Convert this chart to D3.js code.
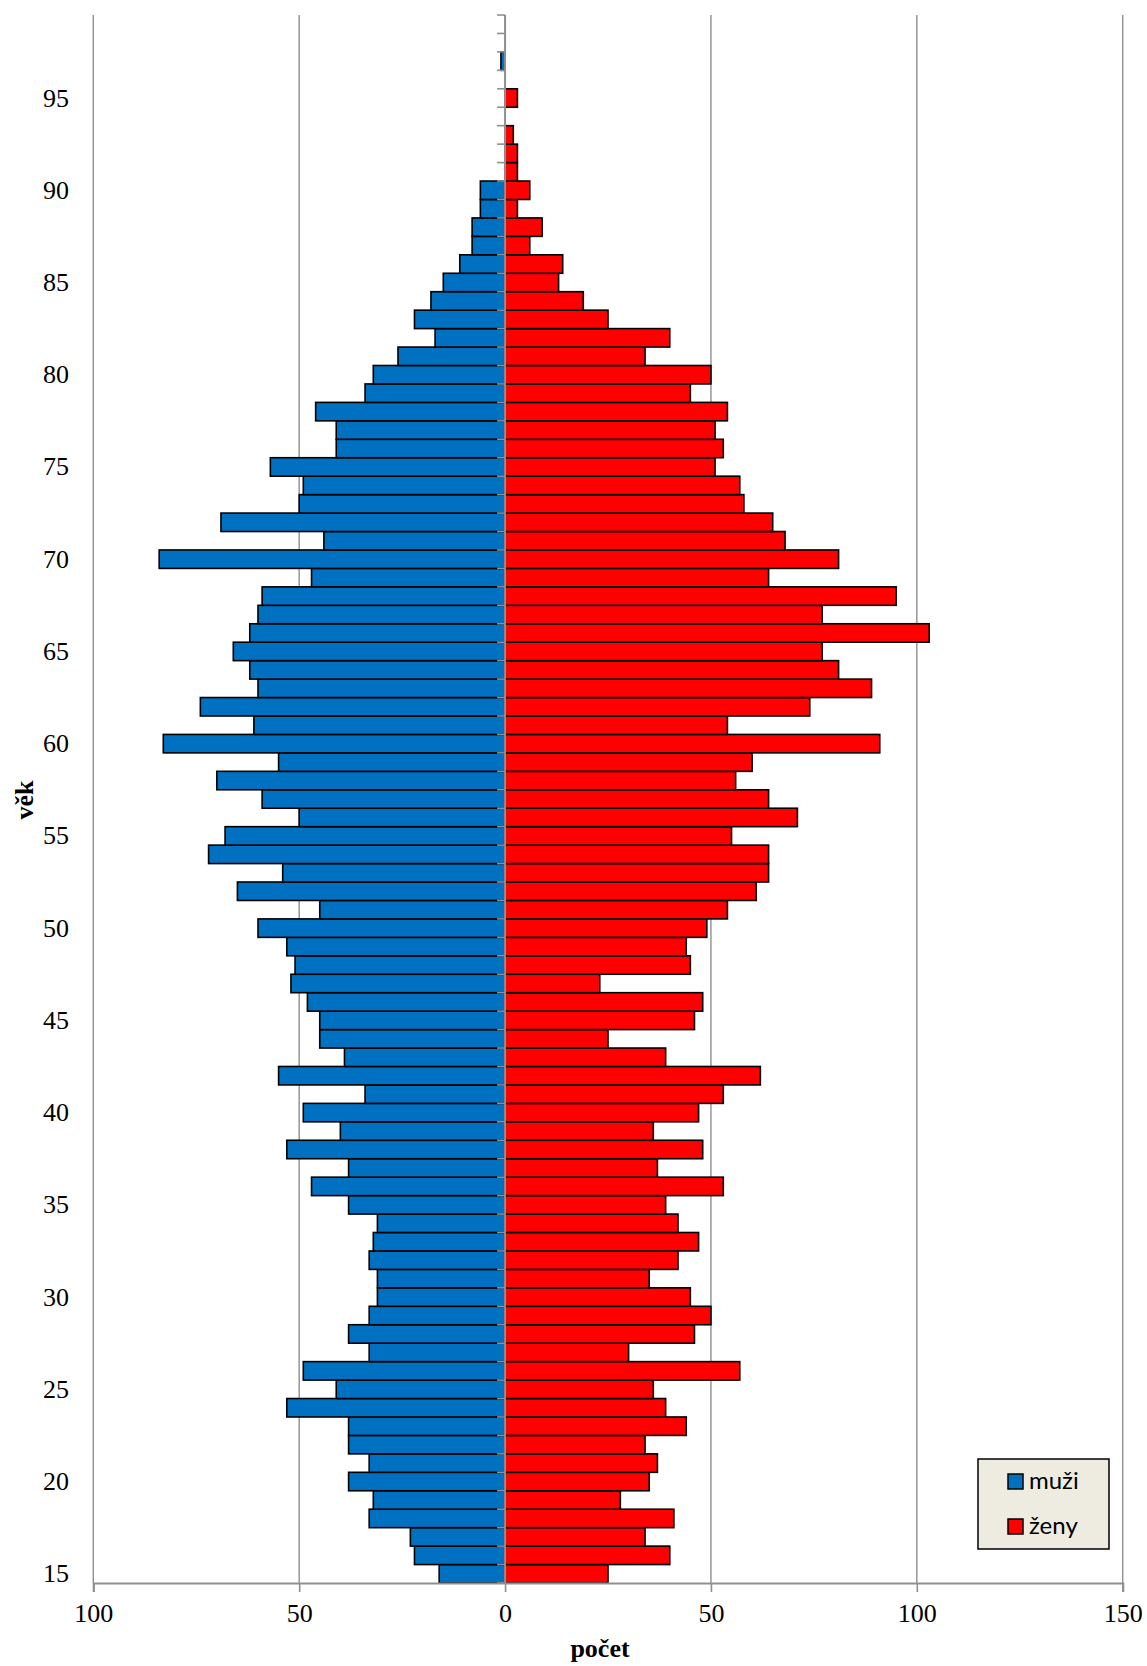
<!DOCTYPE html>
<html>
<head>
<meta charset="utf-8">
<script src="https://cdn.jsdelivr.net/npm/d3@7"></script>
<style>
  html, body { margin: 0; padding: 0; background: #fff; }
  svg { display: block; }
</style>
</head>
<body>
<svg id="chart" width="1147" height="1666"></svg>
<script>
// Categories: age (years)
const ages = [15,16,17,18,19,20,21,22,23,24,25,26,27,28,29,30,31,32,33,34,35,36,37,38,39,
  40,41,42,43,44,45,46,47,48,49,50,51,52,53,54,55,56,57,58,59,60,61,62,63,64,65,66,67,68,69,
  70,71,72,73,74,75,76,77,78,79,80,81,82,83,84,85,86,87,88,89,90,91,92,93,94,95,96,97,98,99];

// Series: muži (men)
const men = [16,22,23,33,32,38,33,38,38,53,41,49,33,38,33,31,31,33,32,31,38,47,38,53,40,
  49,34,55,39,45,45,48,52,51,53,60,45,65,54,72,68,50,59,70,55,83,61,74,60,62,66,62,60,59,47,
  84,44,69,50,49,57,41,41,46,34,32,26,17,22,18,15,11,8,8,6,6,0,0,0,0,0,0,1,0,0];

// Series: ženy (women)
const women = [25,40,34,41,28,35,37,34,44,39,36,57,30,46,50,45,35,42,47,42,39,53,37,48,36,
  47,53,62,39,25,46,48,23,45,44,49,54,61,64,64,55,71,64,56,60,91,54,74,89,81,77,103,77,95,64,
  81,68,65,58,57,51,53,51,54,45,50,34,40,25,19,13,14,6,9,3,6,3,3,2,0,3,0,0,0,0];

// Tick labels
const xTicks = [-100, -50, 0, 50, 100, 150];
const yLabelAges = [15,20,25,30,35,40,45,50,55,60,65,70,75,80,85,90,95];
const seriesNames = ["muži", "ženy"];
const seriesColors = ["#0070C0", "#FF0000"];

(function () {
const svg = d3.select("#chart");
const pLeft = 93.3, pRight = 1122.7, pTop = 15, pBottom = 1583;
const x = d3.scaleLinear().domain([-100, 150]).range([pLeft, pRight]);
const y = d3.scaleBand().domain(ages.slice().reverse()).range([pTop, pBottom]).padding(0);

const gridColor = "#8f8f8f";
const serif = "'Liberation Serif', 'Times New Roman', serif";

// Vertical gridlines
svg.append("g").selectAll("line").data(xTicks.filter(d => d !== 0)).join("line")
  .attr("x1", d => x(d)).attr("x2", d => x(d))
  .attr("y1", pTop).attr("y2", pBottom)
  .attr("stroke", gridColor).attr("stroke-width", 1.4);

// Bars
const data = ages.map((a, i) => ({age: a, m: men[i], w: women[i]}));
const bars = svg.append("g");
bars.selectAll("rect.m").data(data.filter(d => d.m > 0)).join("rect")
  .attr("class", "m")
  .attr("x", d => x(-d.m)).attr("width", d => x(0) - x(-d.m))
  .attr("y", d => y(d.age)).attr("height", y.bandwidth())
  .attr("fill", seriesColors[0]).attr("stroke", "#000").attr("stroke-width", 1.6);
bars.selectAll("rect.w").data(data.filter(d => d.w > 0)).join("rect")
  .attr("class", "w")
  .attr("x", x(0)).attr("width", d => x(d.w) - x(0))
  .attr("y", d => y(d.age)).attr("height", y.bandwidth())
  .attr("fill", seriesColors[1]).attr("stroke", "#000").attr("stroke-width", 1.6);

// Center category axis with ticks at band boundaries
const boundaries = ages.map(a => y(a)).concat([pBottom]);
svg.append("g").selectAll("line").data(boundaries).join("line")
  .attr("x1", x(0) - 8).attr("x2", x(0))
  .attr("y1", d => d).attr("y2", d => d)
  .attr("stroke", gridColor).attr("stroke-width", 1.6);
svg.append("line")
  .attr("x1", x(0)).attr("x2", x(0)).attr("y1", pTop).attr("y2", pBottom)
  .attr("stroke", gridColor).attr("stroke-width", 2);

// Y labels (low position)
svg.append("g").selectAll("text").data(yLabelAges).join("text")
  .attr("x", 69).attr("y", d => y(d) + y.bandwidth() / 2)
  .attr("text-anchor", "end").attr("dominant-baseline", "central")
  .attr("font-family", serif).attr("font-size", 26).attr("fill", "#000")
  .text(d => d);

// Bottom value axis
const xAxis = d3.axisBottom(x).tickValues(xTicks).tickFormat(d => Math.abs(d)).tickSize(9).tickPadding(12);
const gx = svg.append("g").attr("transform", `translate(0,${pBottom})`).call(xAxis);
gx.select(".domain").attr("stroke", gridColor).attr("stroke-width", 2.2);
gx.selectAll(".tick line").attr("stroke", gridColor).attr("stroke-width", 1.6);
gx.selectAll(".tick text").attr("font-family", serif).attr("font-size", 26).attr("fill", "#000");

// Axis titles
svg.append("text")
  .attr("transform", "translate(33,800) rotate(-90)")
  .attr("text-anchor", "middle")
  .attr("font-family", serif).attr("font-size", 26).attr("font-weight", "bold")
  .text("věk");
svg.append("text")
  .attr("x", 600).attr("y", 1657)
  .attr("text-anchor", "middle")
  .attr("font-family", serif).attr("font-size", 26).attr("font-weight", "bold")
  .text("počet");

// Legend
const lg = svg.append("g");
lg.append("rect").attr("x", 978).attr("y", 1459).attr("width", 131).attr("height", 90)
  .attr("fill", "#EEECE1").attr("stroke", "#000").attr("stroke-width", 1.5);
seriesNames.forEach((name, i) => {
  const yy = 1474 + i * 45;
  lg.append("rect").attr("x", 1008).attr("y", yy).attr("width", 15).attr("height", 15)
    .attr("fill", seriesColors[i]).attr("stroke", "#000").attr("stroke-width", 1.5);
  lg.append("text").attr("x", 1029).attr("y", yy + 15)
    .attr("font-family", "Lato, 'Open Sans', sans-serif").attr("font-size", 24).attr("fill", "#000")
    .text(name);
});
})();
</script>
</body>
</html>
